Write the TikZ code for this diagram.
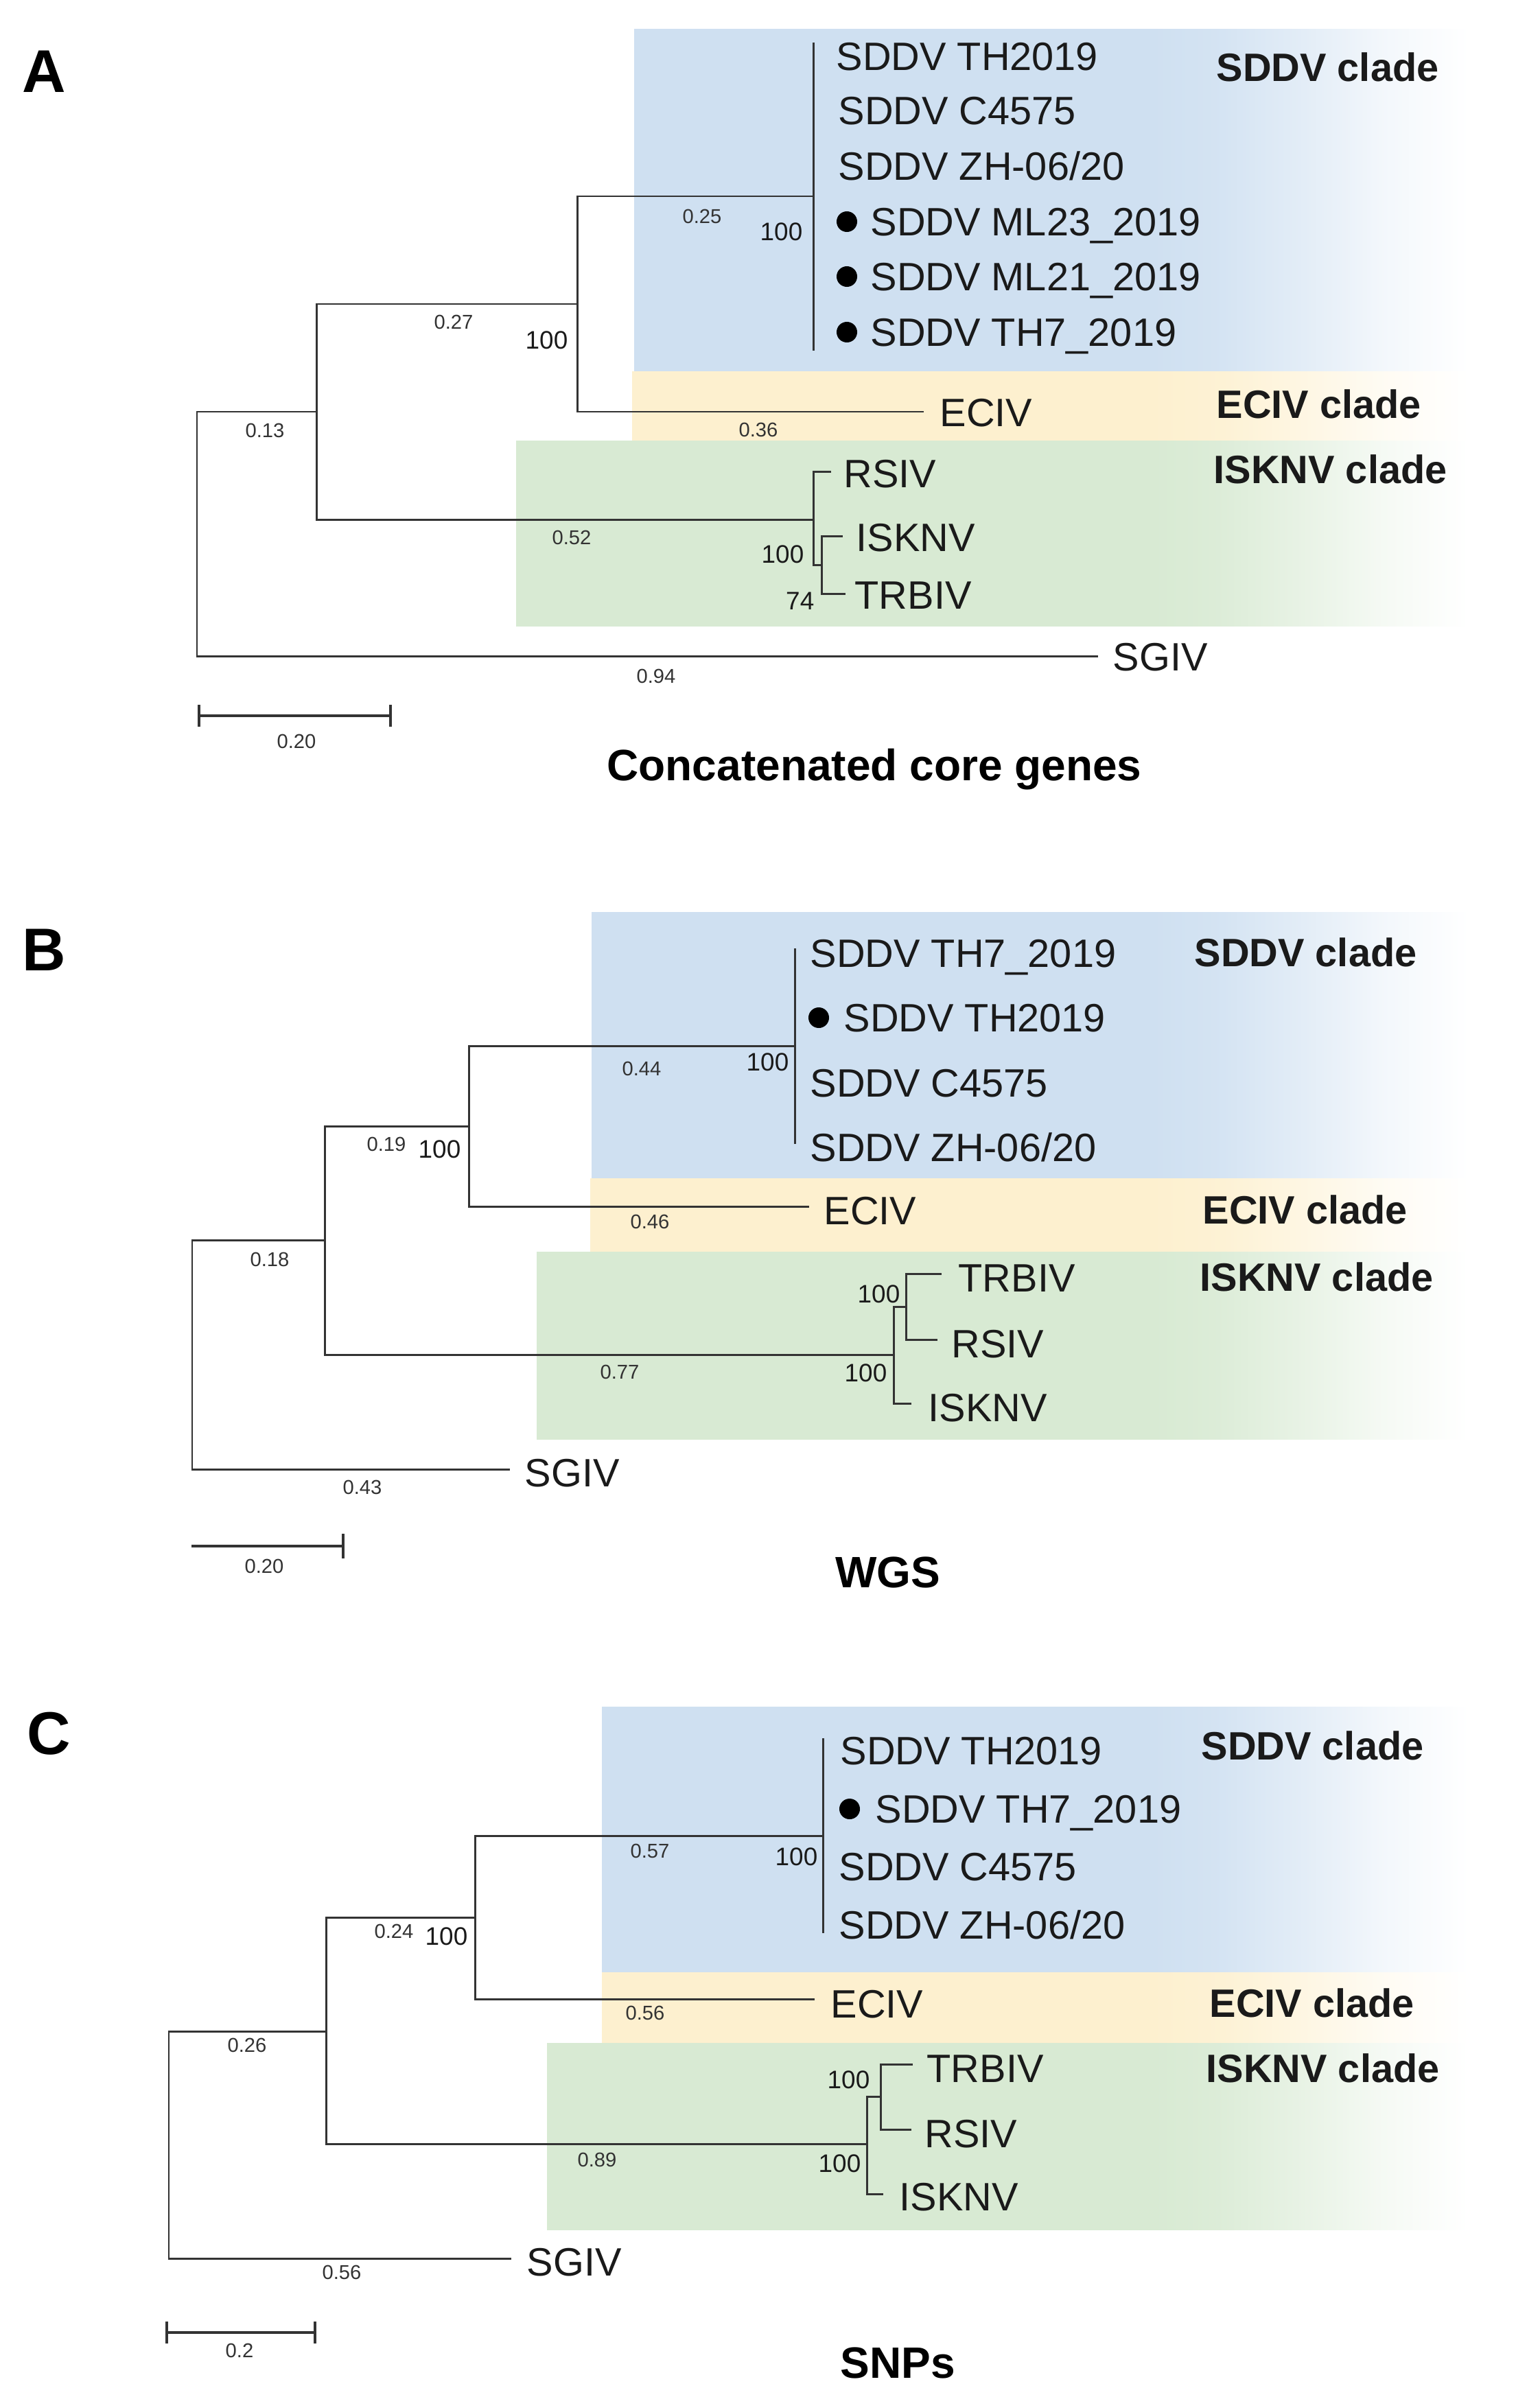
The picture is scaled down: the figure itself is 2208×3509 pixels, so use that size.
\documentclass[tikz,border=0pt]{standalone}
\usepackage{fontspec}
\setmainfont{Liberation Sans}
\definecolor{cblue}{HTML}{CFE0F1}
\definecolor{cyel}{HTML}{FDF0CF}
\definecolor{cgrn}{HTML}{D8EAD3}
\definecolor{cline}{HTML}{333333}
\definecolor{ctext}{HTML}{1A1A1A}
\colorlet{cblueA}{cblue!90!white}\colorlet{cblueB}{cblue!60!white}\colorlet{cblueC}{cblue!25!white}
\colorlet{cyelA}{cyel!90!white}\colorlet{cyelB}{cyel!60!white}\colorlet{cyelC}{cyel!25!white}
\colorlet{cgrnA}{cgrn!90!white}\colorlet{cgrnB}{cgrn!60!white}\colorlet{cgrnC}{cgrn!25!white}
\pgfdeclarehorizontalshading{fblue}{100bp}{color(0bp)=(cblue); color(60bp)=(cblue); color(63bp)=(cblueA); color(67bp)=(cblueB); color(71bp)=(cblueC); color(75bp)=(white); color(100bp)=(white)}
\pgfdeclarehorizontalshading{fyel}{100bp}{color(0bp)=(cyel); color(60bp)=(cyel); color(63bp)=(cyelA); color(67bp)=(cyelB); color(71bp)=(cyelC); color(75bp)=(white); color(100bp)=(white)}
\pgfdeclarehorizontalshading{fgrn}{100bp}{color(0bp)=(cgrn); color(60bp)=(cgrn); color(63bp)=(cgrnA); color(67bp)=(cgrnB); color(71bp)=(cgrnC); color(75bp)=(white); color(100bp)=(white)}
\newcommand\cladebox[4]{%
  \begin{scope}
  \clip (#1,#2) rectangle (2140,#3);
  \shade[shading=#4] (600,#2) rectangle (2140,#3);
  \end{scope}}
\begin{document}
\begin{tikzpicture}[x=0.01cm,y=-0.01cm,
  br/.style={draw=cline, line width=0.85pt},
  sbar/.style={draw=cline, line width=1.1pt},
  tx/.style={anchor=west, inner sep=0pt, text=ctext, font=\fontsize{16.4}{18}\selectfont, text height=0.41cm, text depth=0pt},
  clade/.style={anchor=west, inner sep=0pt, text=ctext, font=\bfseries\fontsize{16.4}{18}\selectfont, text height=0.41cm, text depth=0pt},
  bl/.style={inner sep=0pt, text=cline, font=\fontsize{8.3}{10}\selectfont, text height=0.21cm, text depth=0pt},
  bs/.style={anchor=east, inner sep=0pt, text=ctext, font=\fontsize{10.5}{12}\selectfont, text height=0.265cm, text depth=0pt},
  ttl/.style={inner sep=0pt, text=black, font=\bfseries\fontsize{18.2}{20}\selectfont, text height=0.46cm, text depth=0pt},
  panel/.style={inner sep=0pt, text=black, font=\bfseries\fontsize{25}{28}\selectfont, text height=0.63cm, text depth=0pt},
  dot/.style={fill=black}
]
\useasboundingbox (0,0) rectangle (2208,3509);
\fill[white] (0,0) rectangle (2208,3509);

%%%%%%%%%%%%%%%%%%%% PANEL A %%%%%%%%%%%%%%%%%%%%
\cladebox{924}{43}{541}{fblue}
\cladebox{921}{541}{642}{fyel}
\cladebox{752}{642}{912}{fgrn}

\coordinate (aR) at (287,600);
\coordinate (aN1) at (461,600);
\coordinate (aN2) at (841,443);
\coordinate (aS) at (1185,286);
\coordinate (aSt) at (1185,62);
\coordinate (aSb) at (1185,511);
\coordinate (aE) at (1346,600);
\coordinate (aI) at (1185,757);
\coordinate (aRS) at (1211,687);
\coordinate (aJ) at (1197,823);
\coordinate (aIS) at (1228,781);
\coordinate (aTR) at (1232,865);
\coordinate (aSG) at (1600,956);

\draw[br] (aN1) -| (aR) |- (aSG);
\draw[br] (aN2) -| (aN1) |- (aI);
\draw[br] (aS) -| (aN2) |- (aE);
\draw[br] (aSt) -- (aSb);
\draw[br] (aRS) -| (aI) |- (aJ);
\draw[br] (aIS) -| (aJ) |- (aTR);

\node[tx] (aT1) at (1218,82) {SDDV TH2019};
\node[tx] (aT2) at (1221,161) {SDDV C4575};
\node[tx] (aT3) at (1221,242) {SDDV ZH-06/20};
\node[tx] (aT4) at (1268,323) {SDDV ML23\_2019};
\node[tx] (aT5) at (1268,403) {SDDV ML21\_2019};
\node[tx] (aT6) at (1268,484) {SDDV TH7\_2019};
\fill[dot] (1234,323) circle[radius=0.15cm];
\fill[dot] (1234,403) circle[radius=0.15cm];
\fill[dot] (1234,484) circle[radius=0.15cm];
\node[tx] (aT7) at (1369,601) {ECIV};
\node[tx] (aT8) at (1229,690) {RSIV};
\node[tx] (aT9) at (1247,783) {ISKNV};
\node[tx] (aT10) at (1245,867) {TRBIV};
\node[tx] (aT11) at (1621,957) {SGIV};

\node[clade] (aC1) at (1772,98) {SDDV clade};
\node[clade] (aC2) at (1772,589) {ECIV clade};
\node[clade] (aC3) at (1768,684) {ISKNV clade};

\node[bl] (aL1) at (1023,315) {0.25};
\node[bl] (aL2) at (661,469) {0.27};
\node[bl] (aL3) at (386,627) {0.13};
\node[bl] (aL4) at (1105,626) {0.36};
\node[bl] (aL5) at (833,783) {0.52};
\node[bl] (aL6) at (956,985) {0.94};

\node[bs] (aB1) at (828,495) {100};
\node[bs] (aB2) at (1170,337) {100};
\node[bs] (aB3) at (1172,807) {100};
\node[bs] (aB4) at (1187,875) {74};

\coordinate (aSc1) at (290,1043);
\coordinate (aSc2) at (569,1043);
\draw[sbar] (aSc1) -- (aSc2);
\draw[sbar] ([yshift=0.16cm]aSc1) -- ([yshift=-0.16cm]aSc1);
\draw[sbar] ([yshift=0.16cm]aSc2) -- ([yshift=-0.16cm]aSc2);
\node[bl] (aScl) at (432,1080) {0.20};

\node[panel] (aP) at (64,103) {A};
\node[ttl] (aTitle) at (1274,1114) {Concatenated core genes};

%%%%%%%%%%%%%%%%%%%% PANEL B %%%%%%%%%%%%%%%%%%%%
\cladebox{862}{1329}{1717}{fblue}
\cladebox{860}{1717}{1824}{fyel}
\cladebox{782}{1824}{2097}{fgrn}

\coordinate (bR) at (280,1807);
\coordinate (bN1) at (473,1807);
\coordinate (bN2) at (683,1641);
\coordinate (bS) at (1158,1524);
\coordinate (bSt) at (1158,1382);
\coordinate (bSb) at (1158,1667);
\coordinate (bE) at (1179,1758);
\coordinate (bI) at (1302,1974);
\coordinate (bJ) at (1320,1904);
\coordinate (bTR) at (1372,1856);
\coordinate (bRS) at (1366,1952);
\coordinate (bIS) at (1328,2045);
\coordinate (bSG) at (743,2141);

\draw[br] (bN1) -| (bR) |- (bSG);
\draw[br] (bN2) -| (bN1) |- (bI);
\draw[br] (bS) -| (bN2) |- (bE);
\draw[br] (bSt) -- (bSb);
\draw[br] (bJ) -| (bI) |- (bIS);
\draw[br] (bTR) -| (bJ) |- (bRS);

\node[tx] (bT1) at (1180,1389) {SDDV TH7\_2019};
\node[tx] (bT2) at (1229,1483) {SDDV TH2019};
\fill[dot] (1193,1483) circle[radius=0.15cm];
\node[tx] (bT3) at (1180,1578) {SDDV C4575};
\node[tx] (bT4) at (1180,1672) {SDDV ZH-06/20};
\node[tx] (bT5) at (1200,1764) {ECIV};
\node[tx] (bT6) at (1396,1862) {TRBIV};
\node[tx] (bT7) at (1386,1958) {RSIV};
\node[tx] (bT8) at (1352,2051) {ISKNV};
\node[tx] (bT9) at (764,2146) {SGIV};

\node[clade] (bC1) at (1740,1388) {SDDV clade};
\node[clade] (bC2) at (1752,1763) {ECIV clade};
\node[clade] (bC3) at (1748,1861) {ISKNV clade};

\node[bl] (bL1) at (935,1557) {0.44};
\node[bl] (bL2) at (563,1667) {0.19};
\node[bl] (bL3) at (947,1780) {0.46};
\node[bl] (bL4) at (393,1835) {0.18};
\node[bl] (bL5) at (903,1999) {0.77};
\node[bl] (bL6) at (528,2167) {0.43};

\node[bs] (bB1) at (672,1674) {100};
\node[bs] (bB2) at (1150,1547) {100};
\node[bs] (bB3) at (1312,1885) {100};
\node[bs] (bB4) at (1293,2000) {100};

\coordinate (bSc1) at (279,2253);
\coordinate (bSc2) at (500,2253);
\draw[sbar] (bSc1) -- (bSc2);
\draw[sbar] ([yshift=0.18cm]bSc2) -- ([yshift=-0.18cm]bSc2);
\node[bl] (bScl) at (385,2282) {0.20};

\node[panel] (bP) at (64,1383) {B};
\node[ttl] (bTitle) at (1294,2290) {WGS};

%%%%%%%%%%%%%%%%%%%% PANEL C %%%%%%%%%%%%%%%%%%%%
\cladebox{877}{2487}{2874}{fblue}
\cladebox{877}{2874}{2977}{fyel}
\cladebox{797}{2977}{3249}{fgrn}

\coordinate (cR) at (246,2960);
\coordinate (cN1) at (475,2960);
\coordinate (cN2) at (692,2794);
\coordinate (cS) at (1199,2675);
\coordinate (cSt) at (1199,2533);
\coordinate (cSb) at (1199,2817);
\coordinate (cE) at (1187,2913);
\coordinate (cI) at (1263,3124);
\coordinate (cJ) at (1283,3055);
\coordinate (cTR) at (1330,3008);
\coordinate (cRS) at (1328,3103);
\coordinate (cIS) at (1287,3197);
\coordinate (cSG) at (745,3291);

\draw[br] (cN1) -| (cR) |- (cSG);
\draw[br] (cN2) -| (cN1) |- (cI);
\draw[br] (cS) -| (cN2) |- (cE);
\draw[br] (cSt) -- (cSb);
\draw[br] (cJ) -| (cI) |- (cIS);
\draw[br] (cTR) -| (cJ) |- (cRS);

\node[tx] (cT1) at (1224,2551) {SDDV TH2019};
\node[tx] (cT2) at (1275,2636) {SDDV TH7\_2019};
\fill[dot] (1238,2636) circle[radius=0.15cm];
\node[tx] (cT3) at (1222,2720) {SDDV C4575};
\node[tx] (cT4) at (1222,2805) {SDDV ZH-06/20};
\node[tx] (cT5) at (1210,2920) {ECIV};
\node[tx] (cT6) at (1350,3014) {TRBIV};
\node[tx] (cT7) at (1347,3109) {RSIV};
\node[tx] (cT8) at (1310,3201) {ISKNV};
\node[tx] (cT9) at (767,3296) {SGIV};

\node[clade] (cC1) at (1750,2544) {SDDV clade};
\node[clade] (cC2) at (1762,2919) {ECIV clade};
\node[clade] (cC3) at (1757,3014) {ISKNV clade};

\node[bl] (cL1) at (947,2697) {0.57};
\node[bl] (cL2) at (574,2814) {0.24};
\node[bl] (cL3) at (940,2933) {0.56};
\node[bl] (cL4) at (360,2980) {0.26};
\node[bl] (cL5) at (870,3147) {0.89};
\node[bl] (cL6) at (498,3311) {0.56};

\node[bs] (cB1) at (682,2821) {100};
\node[bs] (cB2) at (1192,2705) {100};
\node[bs] (cB3) at (1268,3030) {100};
\node[bs] (cB4) at (1255,3152) {100};

\coordinate (cSc1) at (243,3399);
\coordinate (cSc2) at (459,3399);
\draw[sbar] (cSc1) -- (cSc2);
\draw[sbar] ([yshift=0.16cm]cSc1) -- ([yshift=-0.16cm]cSc1);
\draw[sbar] ([yshift=0.16cm]cSc2) -- ([yshift=-0.16cm]cSc2);
\node[bl] (cScl) at (349,3425) {0.2};

\node[panel] (cP) at (71,2525) {C};
\node[ttl] (cTitle) at (1308,3442) {SNPs};
\end{tikzpicture}
\end{document}
